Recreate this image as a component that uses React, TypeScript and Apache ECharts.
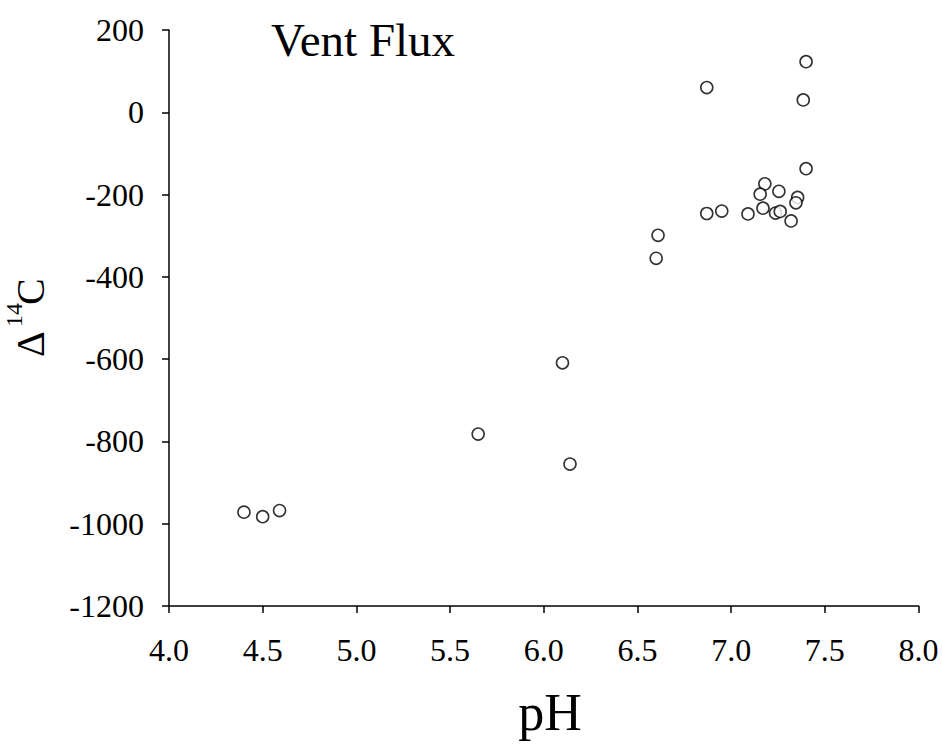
import React, { useEffect, useRef } from "react";
import * as echarts from "echarts";

const phValues = [
  4.40, 4.50, 4.59,
  5.65, 6.10, 6.14,
  6.61, 6.60,
  6.87, 7.40, 7.385,
  7.40, 7.18, 7.155, 7.255, 7.355, 7.346,
  6.87, 6.95, 7.09, 7.17, 7.237, 7.262, 7.32,
];
const d14cValues = [
  -972, -983, -968,
  -782, -609, -855,
  -299, -355,
  60, 123, 30,
  -137, -174, -199, -192, -207, -220,
  -246, -240, -247, -233, -245, -241, -264,
];
const xTicks = { min: 4, max: 8, interval: 0.5 };
const yTicks = { min: -1200, max: 200, interval: 200 };
const titleText = "Vent Flux";
const xName = "pH";

const FONT = "Liberation Serif";

export default function App() {
  const ref = useRef<HTMLDivElement>(null);
  useEffect(() => {
    if (!ref.current) return;
    const chart = echarts.init(ref.current, null, { renderer: "svg" });
    const data = phValues.map((x, i) => [x, d14cValues[i]]);
    chart.setOption({
      animation: false,
      backgroundColor: "#ffffff",
      textStyle: { fontFamily: FONT },
      grid: { left: 169, right: 23.5, top: 30, bottom: 143, containLabel: false },
      xAxis: {
        type: "value",
        min: xTicks.min,
        max: xTicks.max,
        interval: xTicks.interval,
        axisLine: { onZero: false, lineStyle: { color: "#000", width: 1.5 } },
        axisTick: { inside: false, length: 7, lineStyle: { color: "#000", width: 1.5 } },
        axisLabel: {
          margin: 28,
          color: "#000",
          fontFamily: FONT,
          fontSize: 32,
          formatter: (v: number) => v.toFixed(1),
        },
        splitLine: { show: false },
      },
      yAxis: {
        type: "value",
        min: yTicks.min,
        max: yTicks.max,
        interval: yTicks.interval,
        axisLine: { show: true, onZero: false, lineStyle: { color: "#000", width: 1.5 } },
        axisTick: { show: true, inside: false, length: 7, lineStyle: { color: "#000", width: 1.5 } },
        axisLabel: {
          margin: 25,
          color: "#000",
          fontFamily: FONT,
          fontSize: 32,
          formatter: (v: number) => String(v),
        },
        splitLine: { show: false },
      },
      graphic: [
        {
          type: "text",
          x: 271,
          y: 40,
          style: {
            text: titleText,
            fontFamily: FONT,
            fontSize: 47,
            fill: "#000",
            align: "left",
            verticalAlign: "middle",
          },
        },
        {
          type: "text",
          x: 550,
          y: 712,
          style: {
            text: xName,
            fontFamily: FONT,
            fontSize: 52,
            fill: "#000",
            align: "center",
            verticalAlign: "middle",
          },
        },
        {
          type: "group",
          x: 30,
          y: 317,
          rotation: Math.PI / 2,
          children: [
            {
              type: "text",
              x: -40,
              y: 0,
              style: { text: "Δ", fontFamily: FONT, fontSize: 40, fill: "#000", align: "left", verticalAlign: "middle" },
            },
            {
              type: "text",
              x: -10,
              y: -16,
              style: { text: "14", fontFamily: FONT, fontSize: 24, fill: "#000", align: "left", verticalAlign: "middle" },
            },
            {
              type: "text",
              x: 12,
              y: 0,
              style: { text: "C", fontFamily: FONT, fontSize: 40, fill: "#000", align: "left", verticalAlign: "middle" },
            },
          ],
        },
      ],
      series: [
        {
          type: "scatter",
          data,
          symbol: "circle",
          symbolSize: 12,
          itemStyle: { color: "#ffffff", borderColor: "#000", borderWidth: 1.6 },
        },
      ],
    });
    return () => chart.dispose();
  }, []);
  return (
    <div
      ref={ref}
      style={{ position: "absolute", left: 0, top: 0, width: 942, height: 749 }}
    />
  );
}
